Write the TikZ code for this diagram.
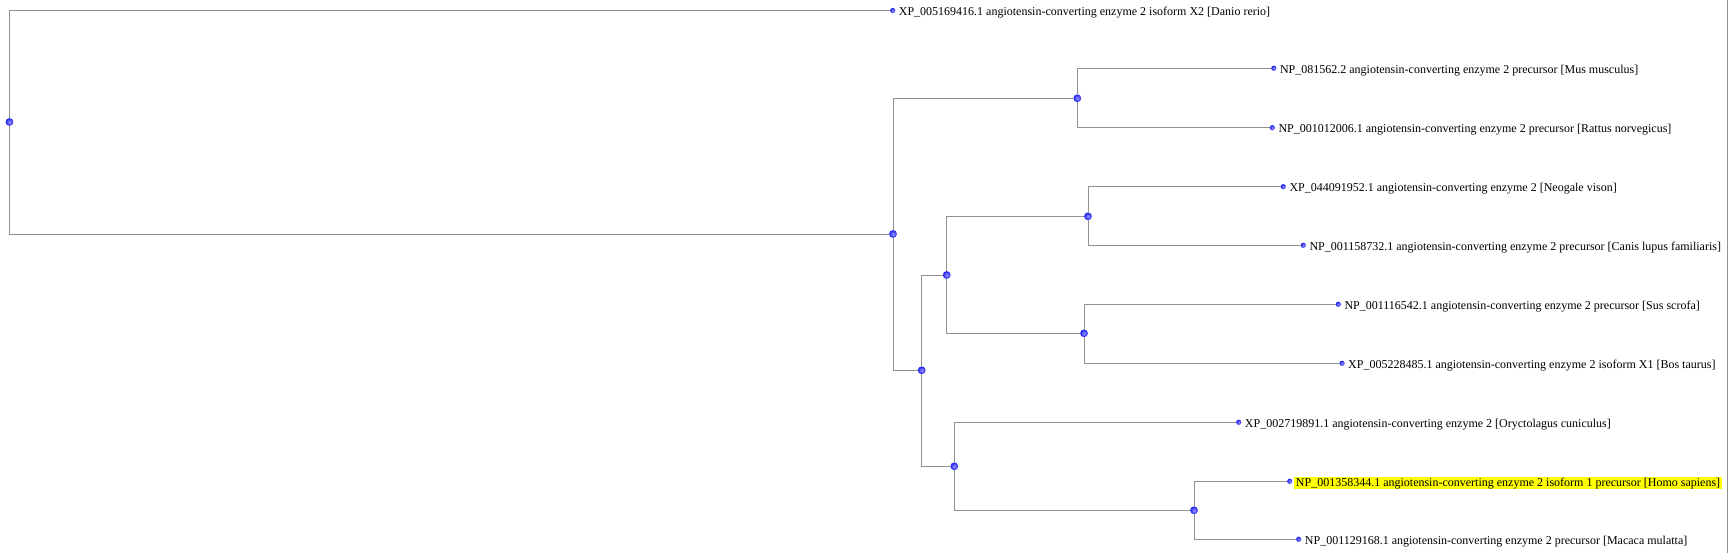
\documentclass[tikz,border=0pt]{standalone}
\usepackage{fontspec}
\setmainfont{Liberation Serif}
\definecolor{linegray}{RGB}{145,145,145}
\definecolor{hlyellow}{RGB}{255,255,0}
\definecolor{dotin}{RGB}{150,150,255}
\definecolor{dotout}{RGB}{30,30,235}
\tikzset{
  branch/.style={draw=linegray, line width=0.9bp},
  dotshade/.style={shading=radial, inner color=dotin, outer color=dotout, draw=none},
  innerdot/.style={circle, inner sep=0pt, minimum size=7.8bp, dotshade},
  leafdot/.style={circle, inner sep=0pt, minimum size=5.2bp, dotshade},
  leaflabel/.style={anchor=base west, inner xsep=2bp, inner ysep=0.8bp, text height=9bp, text depth=1.6bp,
    font=\fontsize{12bp}{14bp}\selectfont},
  highlight/.style={fill=hlyellow}
}
\begin{document}
\begin{tikzpicture}[x=1bp, y=-1bp]
\useasboundingbox (0,0) rectangle (1731,553);
% internal nodes
\node[innerdot] (root) at (9.5,122) {};
\node[innerdot] (A) at (893,234) {};
\node[innerdot] (MR) at (1077.3,98.3) {};
\node[innerdot] (B) at (921.7,370.3) {};
\node[innerdot] (C) at (946.7,275) {};
\node[innerdot] (E) at (1088,216.3) {};
\node[innerdot] (F) at (1084,333.3) {};
\node[innerdot] (D) at (954.3,466.3) {};
\node[innerdot] (G) at (1194,510.3) {};
% leaves
\node[leafdot] (danio) at (892.7,10.5) {};
\node[leafdot] (mus) at (1273.8,68.3) {};
\node[leafdot] (rat) at (1272.3,127.7) {};
\node[leafdot] (neo) at (1283.3,186.7) {};
\node[leafdot] (canis) at (1303.3,245.3) {};
\node[leafdot] (sus) at (1338.3,304.3) {};
\node[leafdot] (bos) at (1342,363.3) {};
\node[leafdot] (ory) at (1238.7,422.3) {};
\node[leafdot] (homo) at (1289.7,481.3) {};
\node[leafdot] (mac) at (1298.7,539.3) {};
% labels
\node[leaflabel] (daniol) at ([xshift=4bp,yshift=-5bp]danio) {XP\_005169416.1 angiotensin-converting enzyme 2 isoform X2 [Danio rerio]};
\node[leaflabel] (musl) at ([xshift=4bp,yshift=-5bp]mus) {NP\_081562.2 angiotensin-converting enzyme 2 precursor [Mus musculus]};
\node[leaflabel] (ratl) at ([xshift=4bp,yshift=-5bp]rat) {NP\_001012006.1 angiotensin-converting enzyme 2 precursor [Rattus norvegicus]};
\node[leaflabel] (neol) at ([xshift=4bp,yshift=-5bp]neo) {XP\_044091952.1 angiotensin-converting enzyme 2 [Neogale vison]};
\node[leaflabel] (canisl) at ([xshift=4bp,yshift=-5bp]canis) {NP\_001158732.1 angiotensin-converting enzyme 2 precursor [Canis lupus familiaris]};
\node[leaflabel] (susl) at ([xshift=4bp,yshift=-5bp]sus) {NP\_001116542.1 angiotensin-converting enzyme 2 precursor [Sus scrofa]};
\node[leaflabel] (bosl) at ([xshift=4bp,yshift=-5bp]bos) {XP\_005228485.1 angiotensin-converting enzyme 2 isoform X1 [Bos taurus]};
\node[leaflabel] (oryl) at ([xshift=4bp,yshift=-5bp]ory) {XP\_002719891.1 angiotensin-converting enzyme 2 [Oryctolagus cuniculus]};
\node[leaflabel, highlight] (homol) at ([xshift=4bp,yshift=-5bp]homo) {NP\_001358344.1 angiotensin-converting enzyme 2 isoform 1 precursor [Homo sapiens]};
\node[leaflabel] (macl) at ([xshift=4bp,yshift=-5bp]mac) {NP\_001129168.1 angiotensin-converting enzyme 2 precursor [Macaca mulatta]};
% branches
\draw[branch] (root) |- (danio);
\draw[branch] (root) |- (A);
\draw[branch] (A) |- (MR);
\draw[branch] (A) |- (B);
\draw[branch] (MR) |- (mus);
\draw[branch] (MR) |- (rat);
\draw[branch] (B) |- (C);
\draw[branch] (B) |- (D);
\draw[branch] (C) |- (E);
\draw[branch] (C) |- (F);
\draw[branch] (E) |- (neo);
\draw[branch] (E) |- (canis);
\draw[branch] (F) |- (sus);
\draw[branch] (F) |- (bos);
\draw[branch] (D) |- (ory);
\draw[branch] (D) |- (G);
\draw[branch] (G) |- (homo);
\draw[branch] (G) |- (mac);
% frame edge at right
\draw[branch] (1727.7,0) -- (1727.7,553);
\end{tikzpicture}
\end{document}
